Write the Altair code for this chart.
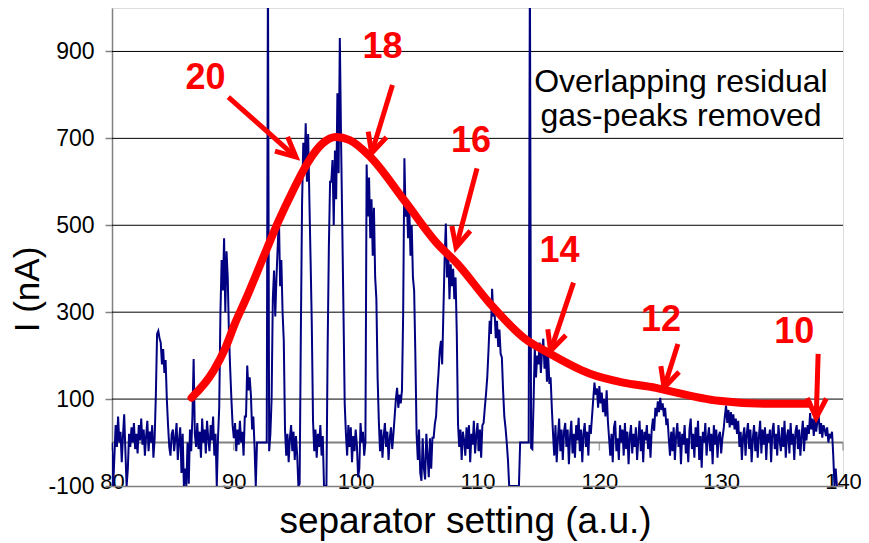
import math
import altair as alt
import pandas as pd

FONT = "Liberation Sans"

# ---------------- measured trace (separator scan, step 0.1 from 80.0) ----------------
X_START = 80.0
X_STEP = 0.1
trace_80s = [
    0, -100, -30, 40, -10, 60, 0, 25, -45, 15,
    65, -20, -100, -60, 20, -10, 35, 0, 45, -15,
    20, -25, 40, 5, 55, -5, 30, -30, 15, 50,
    -20, 25, 0, 40, -35, 10, 110, 250, 257, 240,
    230, 180, 215, 160, 190, 100, 40, -10, -30, 20,
    30, -20, 10, 45, -40, 5, 35, -70, 20, -100,
    -60, -100, 0, -95, 30, -20, 60, 192, 20, -10,
    45, -15, 25, -35, 55, 0, 30, -25, 50, 10,
    -20, 40, 5, 60, -30, 20, -100, 10, 80, 300,
    420, 350, 470, 300, 440, 380, 250, 170, 100, 40,
]
trace_90s = [
    10, 45, -20, 30, -5, 50, 0, 25, -30, 60,
    60, 177, 120, 150, 110, 30, 60, -10, -100, 0,
    0, 0, 0, 0, 0, 0, 0, 0, 1100, -20,
    20, 100, 330, 396, 290, 380, 450, 520, 360, 420,
    300, 234, 30, -30, 20, -45, 10, 40, -20, 25,
    -40, 15, -30, -100, -95, 250, 550, 690, 620, 735,
    600, 710, 560, 420, 270, 50, -20, 30, -35, 20,
    -10, 40, -30, 15, -100, -100, -100, 220, 450, 600,
    600, 650, 500, 672, 560, 804, 620, 931, 700, 500,
    300, 90, 20, -30, 40, -10, 35, -45, 15, -20,
]
trace_100s = [
    30, -5, -80, -60, 45, 0, 25, -30, 0, 640,
    520, 610, 470, 560, 430, 540, 380, 330, 150, 50,
    -20, 30, -35, 15, 45, -10, 25, -40, 10, 35,
    -15, 20, 60, 100, 126, 80, 110, 90, 120, 300,
    654, 520, 560, 470, 540, 430, 500, 380, 350, 200,
    20, -40, 30, -70, -88, 10, -60, -85, 20, -30,
    -80, 10, -60, 11, 11, 43, 60, 119, 160, 211,
    234, 180, 300, 420, 504, 380, 440, 330, 410, 360,
    400, 330, 380, 250, 43, -10, 30, -40, 25, 5,
    -30, 35, -15, 40, -45, 20, -5, 50, -25, 15,
]
trace_110s = [
    45, -20, 30, -35, 40, 45, 80, 112, 150, 210,
    280, 250, 354, 290, 303, 240, 280, 220, 260, 204,
    196, 120, 60, 34, 0, -40, -100, -100, -100, -100,
    -100, -100, -100, -100, -100, 0, 0, 0, 0, 0,
    0, 0, 0, 1100, -12, -15, 90, 218, 150, 200,
    180, 230, 160, 210, 239, 170, 220, 140, 200, 135,
    150, 80, 20, -30, 40, -45, 10, 55, -20, 30,
    -40, 25, 45, -10, 30, -50, 15, 50, -25, 20,
    -35, 40, 5, 57, -20, 30, -45, 20, 45, -10,
    25, -30, 40, 20, 60, 100, 138, 110, 125, 80,
]
trace_120s = [
    130, 90, 115, 70, 100, 60, 120, 50, 10, -30,
    20, -45, 35, 50, -20, 10, -40, 40, 0, 30,
    -30, 45, -15, 25, -50, 15, 40, -25, 20, -10,
    35, -40, 10, 50, -20, 30, -45, 25, 5, 40,
    -15, 20, -35, 30, 55, 27, 80, 60, 95, 70,
    103, 75, 90, 60, 80, 40, 55, 10, -30, 25,
    -20, 35, -40, 15, 45, -10, 25, -50, 20, -5,
    40, -25, 10, -45, 30, 55, -15, 20, -35, 35,
    -10, 50, -40, 15, -58, 25, 0, 45, -30, 10,
    35, -20, 20, -50, 40, -5, 30, -35, 15, 25,
]
trace_130s = [
    -25, 10, 30, 60, 85, 45, 75, 35, 70, 40,
    65, 30, 55, 20, 50, -10, 25, -40, 15, 35,
    -30, 20, 45, -15, 30, -45, 10, 40, -20, 25,
    -35, 15, 50, -25, 30, -5, 35, -40, 20, 0,
    30, -45, 25, 45, -15, 20, -30, 40, 5, -20,
    35, -10, 50, -35, 15, 30, -25, 45, -5, 20,
    -40, 25, 40, -15, 30, -30, 15, 50, -20, 35,
    5, 40, 20, 68, 30, 55, 15, 60, 25, 50,
    65, 20, 45, 11, 40, 30, 15, 35, 0, 20,
    10, 25, -30, -100, -60, -100,
]

# ---------------- smooth envelope (red) ----------------
fit_x = [86.53, 88.33, 89.31, 90.12, 90.94, 92.65, 93.63, 94.86, 96.08, 97.31, 98.37,
         99.51, 101.22, 104.0, 106.69, 108.33, 111.02, 113.8, 115.92, 119.18, 121.96,
         124.65, 125.71, 129.8, 133.88, 137.14]
fit_y = [103, 165, 218, 276, 327, 442, 507, 580, 645, 689, 703,
         696, 657, 557, 458, 412, 320, 241, 205, 159, 138,
         126, 119, 96, 89, 89]

# ---------------- annotations ----------------
charge_labels = ["20", "18", "16", "14", "12", "10"]
label_x = [87.67, 102.2, 109.47, 116.73, 125.06, 136.0]
label_y = [839, 910, 693, 440, 283, 255]
arrow_x0 = [89.55, 103.02, 109.96, 117.88, 126.45, 137.96]
arrow_y0 = [795, 823, 631, 368, 227, 204]
arrow_x1 = [95.10, 101.31, 108.24, 116.0, 125.31, 137.8]
arrow_y1 = [657, 666, 449, 211, 126, 57]

note_lines = ["Overlapping residual", "gas-peaks removed"]
note_x = [126.7]
note_y = [807]

grid_values = [100, 300, 500, 700, 900]
y_tick_values = [-100, 100, 300, 500, 700, 900]
x_tick_values = [80, 90, 100, 110, 120, 130, 140]

# ---------------- layout ----------------
W, H = 731, 478
PAD_L = 104
X_DOM = [80, 140]
Y_DOM = [-100, 1000]
PX_X = W / (X_DOM[1] - X_DOM[0])
PX_Y = H / (Y_DOM[1] - Y_DOM[0])

xs = alt.Scale(domain=X_DOM, nice=False, zero=False)
ys = alt.Scale(domain=Y_DOM, nice=False, zero=False)

RED = "#ff0000"
NAVY = "#000080"
GRAY = "#808080"

trace_y = trace_80s + trace_90s + trace_100s + trace_110s + trace_120s + trace_130s
trace_x = [round(X_START + i * X_STEP, 2) for i in range(len(trace_y))]
trace_df = pd.DataFrame({"x": trace_x, "y": trace_y})
fit_df = pd.DataFrame({"x": fit_x, "y": fit_y})

angles = []
for x0, y0, x1, y1 in zip(arrow_x0, arrow_y0, arrow_x1, arrow_y1):
    dx = (x1 - x0) * PX_X
    dy = -(y1 - y0) * PX_Y
    angles.append(math.degrees(math.atan2(dx, -dy)) % 360)

arrow_df = pd.DataFrame({
    "label": charge_labels, "lx": label_x, "ly": label_y,
    "x0": arrow_x0, "y0": arrow_y0, "x1": arrow_x1, "y1": arrow_y1,
    "angle": angles,
})

X_TITLE = "separator setting (a.u.)"
Y_TITLE = "I (nA)"
HYPHEN_LABEL = "datum.value < 0 ? '-' + (-datum.value) : '' + datum.value"

x_axis = alt.Axis(
    values=x_tick_values, title=X_TITLE, grid=False,
    ticks=False, tickSize=0, domainColor=GRAY, domainWidth=1.5,
    labelFont=FONT, labelFontSize=22, labelColor="black",
    labelBaseline="alphabetic", labelPadding=2, labelFlush=False,
    labelOverlap=False,
    titleFont=FONT, titleFontSize=37, titleFontWeight="normal", titleColor="black",
    titleX=353, titleY=46, titleBaseline="alphabetic", titleAlign="center",
)
y_axis = alt.Axis(
    values=y_tick_values, title=Y_TITLE, grid=False,
    ticks=True, tickSize=7, tickColor=GRAY, tickWidth=1.5,
    domainColor=GRAY, domainWidth=1.5,
    labelFont=FONT, labelFontSize=23, labelColor="black", labelPadding=11,
    labelOverlap=False, labelFlush=False, labelExpr=HYPHEN_LABEL,
    titleFont=FONT, titleFontSize=35, titleFontWeight="normal", titleColor="black",
    titleAngle=270, titleX=-85, titleY=281, titleBaseline="middle", titleAlign="center",
)


def X(field):
    return alt.X(field, scale=xs, axis=x_axis, title=X_TITLE)


def Y(field):
    return alt.Y(field, scale=ys, axis=y_axis, title=Y_TITLE)


grid = alt.Chart(pd.DataFrame({"g": grid_values})).mark_rule(
    color="black", strokeWidth=1
).encode(y=Y("g:Q"))

zero_line = alt.Chart(pd.DataFrame({"z": [0]})).mark_rule(
    color=GRAY, strokeWidth=2
).encode(y=Y("z:Q"))

zero_ticks = alt.Chart(pd.DataFrame({"t": x_tick_values, "z": [0] * len(x_tick_values)})).mark_tick(
    orient="vertical", size=8, thickness=1.5, color=GRAY, yOffset=4
).encode(x=X("t:Q"), y=Y("z:Q"))

trace = alt.Chart(trace_df).mark_line(
    color=NAVY, strokeWidth=2, clip=True
).encode(
    x=X("x:Q"),
    y=Y("y:Q"),
    order=alt.Order("x:Q"),
)

fit = alt.Chart(fit_df).mark_line(
    color=RED, strokeWidth=8, interpolate="monotone", strokeCap="round", strokeJoin="round"
).encode(x=X("x:Q"), y=Y("y:Q"))

shafts = alt.Chart(arrow_df).mark_rule(color=RED, strokeWidth=5).encode(
    x=X("x0:Q"), y=Y("y0:Q"), x2="x1:Q", y2="y1:Q",
)

ARROW_PATH = "M-0.438,0.899L0,0L0.438,0.899"
heads = alt.Chart(arrow_df).mark_point(
    shape=ARROW_PATH, filled=False, size=1900, strokeWidth=5, color=RED, opacity=1
).encode(
    x=X("x1:Q"), y=Y("y1:Q"),
    angle=alt.Angle("angle:Q", scale=None),
)

labels = alt.Chart(arrow_df).mark_text(
    font=FONT, fontSize=36, fontWeight="bold", color=RED, align="center", baseline="middle"
).encode(x=X("lx:Q"), y=Y("ly:Q"), text="label:N")

note = alt.Chart(pd.DataFrame({"x": note_x, "y": note_y})).mark_text(
    font=FONT, fontSize=32, color="black", align="center", baseline="alphabetic",
    lineHeight=34, text=note_lines,
).encode(x=X("x:Q"), y=Y("y:Q"))

chart = alt.layer(
    grid, zero_line, zero_ticks, trace, fit, shafts, heads, labels, note
).properties(
    width=W, height=H,
    autosize=alt.AutoSizeParams(type="none"),
    padding={"left": PAD_L, "top": 0, "right": 853 - PAD_L - W, "bottom": 57},
).configure_view(stroke=None).configure(font=FONT)

chart.save("out.html", embed_options={"renderer": "svg", "actions": False})
